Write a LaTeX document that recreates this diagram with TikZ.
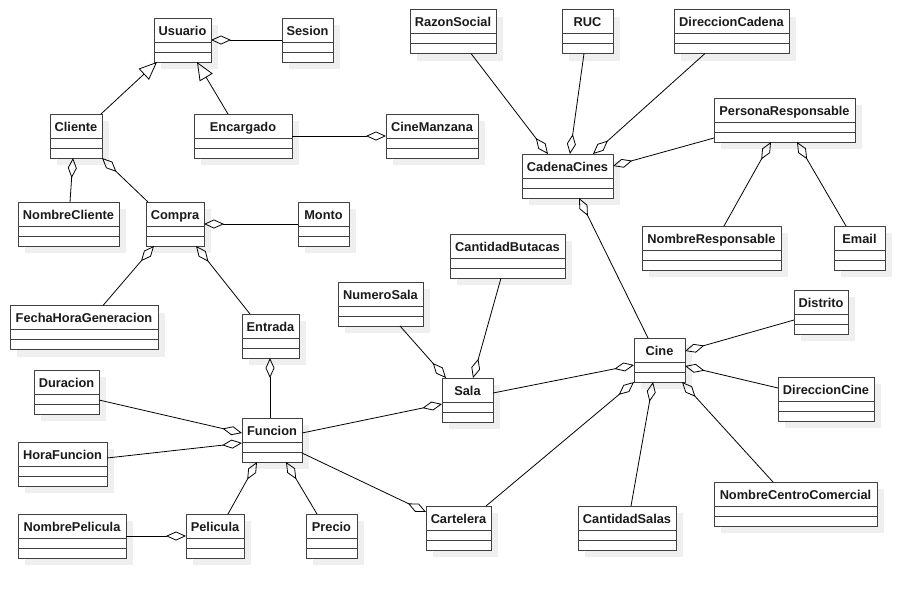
\documentclass[tikz,border=0pt]{standalone}
\usepackage{fontspec}
\setmainfont{Liberation Sans}
\usetikzlibrary{arrows.meta}

\definecolor{boxline}{HTML}{404040}
\definecolor{shade}{HTML}{EFEFEF}
\definecolor{ink}{HTML}{1A1A1A}

\tikzset{
  classbox/.style={rectangle, draw=boxline, line width=1pt, fill=white,
    inner sep=0pt, outer sep=0pt, anchor=north west},
  classtitle/.style={font=\bfseries\fontsize{12.8}{14}\selectfont, text=ink,
    inner sep=0pt, anchor=base},
  divider/.style={draw=boxline, line width=1pt},
  shadowbox/.style={fill=shade},
  link/.style={draw=black, line width=0.8pt},
  aggregation/.style={link, -{Diamond[open, length=20pt, width=9pt]}},
  inherits/.style={link, -{Triangle[open, length=18pt, width=15pt]}},
}

% \umlclass{name}{x1}{y1}{x2}{y2}{title}: a class box with a drop shadow,
% a title compartment and two empty compartments
\newcommand\umlclass[6]{%
  \fill[shadowbox] (#2+7,#3+7) rectangle (#4+7,#5+7);
  \node[classbox, minimum width={#4pt-#2pt}, minimum height={#5pt-#3pt}] (#1) at (#2,#3) {};
  \node[classtitle] at ([yshift=-17pt]#1.north) {#6};
  \draw[divider] ([yshift=-24pt]#1.north west) -- ([yshift=-24pt]#1.north east);
  \draw[divider] ([yshift=-34pt]#1.north west) -- ([yshift=-34pt]#1.north east);
}

\begin{document}
\begin{tikzpicture}[x=1pt, y=-1pt]
\useasboundingbox (0,0) rectangle (924,598);

% classes
\umlclass{usuario}{154}{18}{211}{62}{Usuario}
\umlclass{sesion}{282}{18}{333}{62}{Sesion}
\umlclass{cliente}{50}{114}{102}{158}{Cliente}
\umlclass{encargado}{194}{114}{292}{158}{Encargado}
\umlclass{cinemanzana}{386}{114}{478}{158}{CineManzana}
\umlclass{nombrecliente}{18}{202}{119}{246}{NombreCliente}
\umlclass{compra}{146}{202}{204}{246}{Compra}
\umlclass{monto}{298}{202}{349}{246}{Monto}
\umlclass{razonsocial}{410}{9.5}{496}{53.5}{RazonSocial}
\umlclass{ruc}{562}{9.5}{613}{53.5}{RUC}
\umlclass{direccioncadena}{674}{9.5}{789}{53.5}{DireccionCadena}
\umlclass{personaresp}{714}{98}{855}{142}{PersonaResponsable}
\umlclass{cadenacines}{522}{154}{613}{198}{CadenaCines}
\umlclass{nombreresp}{642}{226}{781}{270}{NombreResponsable}
\umlclass{email}{834}{226}{885}{270}{Email}
\umlclass{cantidadbutacas}{450}{234}{565}{278}{CantidadButacas}
\umlclass{numerosala}{338}{282}{423}{326}{NumeroSala}
\umlclass{distrito}{794}{290}{848}{334}{Distrito}
\umlclass{fechahora}{10}{305.5}{158}{349.5}{FechaHoraGeneracion}
\umlclass{entrada}{242}{314}{299}{358}{Entrada}
\umlclass{cine}{634}{338}{685}{382}{Cine}
\umlclass{duracion}{34}{370}{99}{414}{Duracion}
\umlclass{direccioncine}{778}{377}{874}{421}{DireccionCine}
\umlclass{sala}{442}{378}{493}{422}{Sala}
\umlclass{funcion}{242}{418}{302}{462}{Funcion}
\umlclass{horafuncion}{18}{442}{107}{486}{HoraFuncion}
\umlclass{centrocomercial}{714}{482}{877}{526}{NombreCentroComercial}
\umlclass{cartelera}{426}{506}{491}{550}{Cartelera}
\umlclass{cantidadsalas}{578}{506}{676}{550}{CantidadSalas}
\umlclass{nombrepelicula}{18}{514}{126}{558}{NombrePelicula}
\umlclass{pelicula}{186}{514}{244}{558}{Pelicula}
\umlclass{precio}{306}{514}{357}{558}{Precio}

% generalization
\draw[inherits] ([shift={(51,0)}]cliente.north west) -- ([shift={(3,44)}]usuario.north west);
\draw[inherits] ([shift={(34,0)}]encargado.north west) -- ([shift={(43,44)}]usuario.north west);

% aggregations: the diamond sits at the owning class
\draw[aggregation] (sesion.west) -- (usuario.east);
\draw[aggregation] (encargado.east) -- (cinemanzana.west);
\draw[aggregation] ([shift={(52,0)}]nombrecliente.north west) -- ([shift={(23,44)}]cliente.north west);
\draw[aggregation] ([shift={(2,0)}]compra.north west) -- ([shift={(52,44)}]cliente.north west);
\draw[aggregation] (monto.west) -- (compra.east);
\draw[aggregation] ([shift={(93,0)}]fechahora.north west) -- ([shift={(8,44)}]compra.north west);
\draw[aggregation] ([shift={(8,0)}]entrada.north west) -- ([shift={(50,44)}]compra.north west);
\draw[aggregation] ([shift={(28,0)}]funcion.north west) -- ([shift={(28,44)}]entrada.north west);
\draw[aggregation] ([shift={(65,30)}]duracion.north west) -- ([shift={(0,15)}]funcion.north west);
\draw[aggregation] ([shift={(89,16)}]horafuncion.north west) -- ([shift={(0,25)}]funcion.north west);
\draw[aggregation] ([shift={(42,0)}]pelicula.north west) -- ([shift={(15,44)}]funcion.north west);
\draw[aggregation] ([shift={(11,0)}]precio.north west) -- ([shift={(44,44)}]funcion.north west);
\draw[aggregation] (nombrepelicula.east) -- (pelicula.west);
\draw[aggregation] ([shift={(60,15)}]funcion.north west) -- ([shift={(0,26)}]sala.north west);
\draw[aggregation] ([shift={(60,35)}]funcion.north west) -- ([shift={(0,6)}]cartelera.north west);
\draw[aggregation] ([shift={(62,44)}]numerosala.north west) -- ([shift={(4,0)}]sala.north west);
\draw[aggregation] ([shift={(51,44)}]cantidadbutacas.north west) -- ([shift={(31,0)}]sala.north west);
\draw[aggregation] ([shift={(51,15)}]sala.north west) -- ([shift={(0,27)}]cine.north west);
\draw[aggregation] ([shift={(60,0)}]cartelera.north west) -- ([shift={(0,44)}]cine.north west);
\draw[aggregation] ([shift={(53,0)}]cantidadsalas.north west) -- ([shift={(19,44)}]cine.north west);
\draw[aggregation] ([shift={(59,0)}]centrocomercial.north west) -- ([shift={(48,44)}]cine.north west);
\draw[aggregation] ([shift={(0,30)}]distrito.north west) -- ([shift={(51,13)}]cine.north west);
\draw[aggregation] ([shift={(0,11)}]direccioncine.north west) -- ([shift={(51,28)}]cine.north west);
\draw[aggregation] ([shift={(14,0)}]cine.north west) -- ([shift={(57,44)}]cadenacines.north west);
\draw[aggregation] ([shift={(61,44)}]razonsocial.north west) -- ([shift={(26,0)}]cadenacines.north west);
\draw[aggregation] ([shift={(22,44)}]ruc.north west) -- ([shift={(48,0)}]cadenacines.north west);
\draw[aggregation] ([shift={(31,44)}]direccioncadena.north west) -- ([shift={(71,0)}]cadenacines.north west);
\draw[aggregation] ([shift={(0,40)}]personaresp.north west) -- ([shift={(91,12)}]cadenacines.north west);
\draw[aggregation] ([shift={(82,0)}]nombreresp.north west) -- ([shift={(57,44)}]personaresp.north west);
\draw[aggregation] ([shift={(12,0)}]email.north west) -- ([shift={(83,44)}]personaresp.north west);
\end{tikzpicture}
\end{document}
